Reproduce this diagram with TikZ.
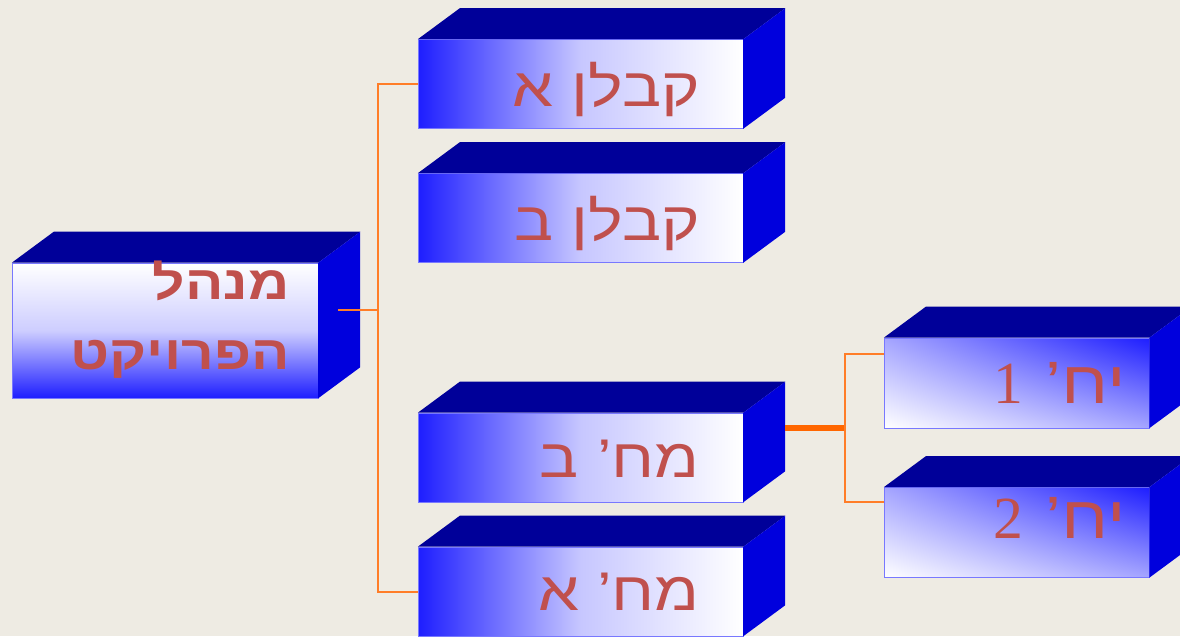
\documentclass[tikz,border=0pt]{standalone}
\usepackage{fontspec}
\setmainfont{Liberation Sans}
\newfontfamily\heb[Script=Hebrew,FakeStretch=1.2]{Liberation Sans}
\newfontfamily\dig{Liberation Serif}
\TeXXeTstate=1
\usetikzlibrary{shadings}
\definecolor{bg}{RGB}{238,235,227}
\definecolor{bb}{RGB}{30,30,255}
\definecolor{tp}{RGB}{0,0,153}
\definecolor{sd}{RGB}{0,0,221}
\definecolor{rd}{RGB}{192,80,77}
\definecolor{og}{RGB}{255,125,40}
\definecolor{ot}{RGB}{255,102,0}
\tikzset{every node/.style={inner sep=0pt}}
\tikzset{f/.style={rectangle,draw=bb!60!white,line width=0.3pt,minimum width=6.5cm,minimum height=1.78cm}}
\tikzset{hz/.style={f,left color=bb,right color=white,middle color=bb!25!white}}
\tikzset{vt/.style={f,top color=white,bottom color=bb,middle color=bb!22!white}}
\tikzset{dg/.style={f,minimum width=5.3cm,minimum height=1.8cm,lower left=white,upper right=bb,upper left=bb!40!white,lower right=bb!40!white}}
\tikzset{w/.style={text=rd,font=\heb\fontsize{31}{36}\selectfont,anchor=base east}}
\tikzset{wy/.style={w,font=\heb\fontsize{34}{40}\selectfont}}
\tikzset{c/.style={og,line width=0.04cm}}
\tikzset{tk/.style={ot,line width=0.14cm}}
\newcommand\prism[1]{%
  \fill[tp] (#1.north west) -- ++(42,31) -- ([shift={(42,31)}]#1.north east) -- (#1.north east) -- cycle;
  \fill[sd] (#1.north east) -- ++(42,31) -- ([shift={(42,31)}]#1.south east) -- (#1.south east) -- cycle;}

\begin{document}
\begin{tikzpicture}[x=0.02cm,y=0.02cm]
  \fill[bg] (0,0) rectangle (1180,636);
  \clip (0,0) rectangle (1180,636);
  % boxes
  \node[vt,minimum width=6.12cm,minimum height=2.7cm] (mgr) at (165,305.5) {};
  \node[hz] (kA) at (580.5,552) {};
  \node[hz] (kB) at (580.5,418) {};
  \node[hz] (mB) at (580.5,178.5) {};
  \node[hz] (mA) at (580.5,44.5) {};
  \node[dg] (y1) at (1016.5,253) {};
  \node[dg] (y2) at (1016.5,103.5) {};
  \foreach \b in {mgr,kA,kB,mB,mA,y1,y2} {\prism{\b}}
  % texts
  \node[w,font=\heb\bfseries\fontsize{27}{32}\selectfont] (mgr1) at (290,336) {\beginR מנהל\endR};
  \node[w,font=\heb\bfseries\fontsize{27}{32}\selectfont] (mgr2) at (290,266) {\beginR הפרויקט\endR};
  \node[w] (kAt) at (700,529) {\beginR קבלן א\endR};
  \node[w] (kBt) at (700,395) {\beginR קבלן ב\endR};
  \node[w] (mBt) at (700,158) {\beginR מח’ ב\endR};
  \node[w] (mAt) at (700,26) {\beginR מח’ א\endR};
  \node[wy] (y1t) at (1126,232) {\beginR יח’\hspace{0.45cm}{\dig 1}\endR};
  \node[wy] (y2t) at (1126,98) {\beginR יח’\hspace{0.45cm}{\dig 2}\endR};
  % connectors
  \coordinate (mgro) at (338,326);
  \coordinate (bus) at (378,326);
  \draw[c] (mgro) -- (bus);
  \draw[c] (kA.west) -| (bus);
  \draw[c] (mA.west) -| (bus);
  \coordinate (mBo) at (785,208);
  \coordinate (fk) at (845,208);
  \draw[tk] (mBo) -- (fk);
  \draw[c] (fk) |- ([yshift=-0.32cm]y1.north west);
  \draw[c] (fk) |- ([yshift=-0.3cm]y2.north west);
\end{tikzpicture}
\end{document}
